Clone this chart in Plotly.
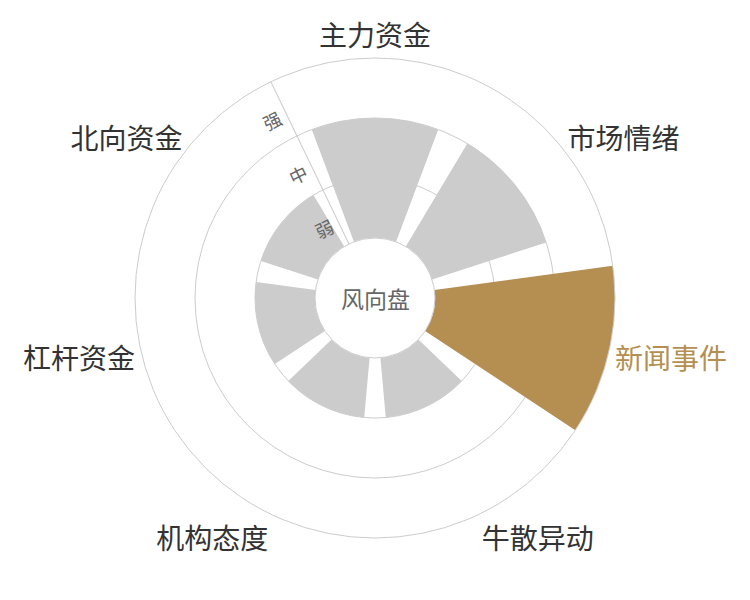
import plotly.graph_objects as go

# wind-vane dial: seven capital-flow signals, each graded 弱 / 中 / 强
categories = ['主力资金', '市场情绪', '新闻事件', '牛散异动', '机构态度', '杠杆资金', '北向资金']
levels = [2, 2, 3, 1, 1, 1, 1]
level_names = ['弱', '中', '强']
highlight = '新闻事件'

GRAY = '#cccccc'
GOLD = '#b58f52'
FONT = 'Noto Sans CJK SC'

colors = [GOLD if c == highlight else GRAY for c in categories]
tick_text = [f'<span style="color:{GOLD}">{c}</span>' if c == highlight else c for c in categories]
n_levels = len(level_names)
axis_angle = 90 + 360 / len(categories) / 2
label_pos = [i + 0.38 for i in range(n_levels)]  # rotated labels sit a bit outward, pull them back to band middle

# page body has an 8px margin, so the dial is placed a little up/left
cx, cy, rad = 367, 290, 240
dom = dict(x=[(cx - rad) / 750, (cx + rad) / 750], y=[(600 - cy - rad) / 600, (600 - cy + rad) / 600])

fig = go.Figure()
fig.add_trace(go.Barpolar(r=levels, theta=categories, subplot='polar',
                          marker=dict(color=colors, line=dict(width=0)), hoverinfo='skip'))
# invisible trace so the overlay subplot (level labels) is rendered
fig.add_trace(go.Scatterpolar(r=levels, theta=categories, subplot='polar2', mode='markers',
                              marker=dict(opacity=0), hoverinfo='skip'))

fig.update_layout(
    width=750, height=600,
    margin=dict(l=0, r=0, t=0, b=0),
    paper_bgcolor='white',
    showlegend=False,
    font=dict(family=FONT),
    polar=dict(
        domain=dom, hole=0.25, bargap=0.2, bgcolor='white',
        angularaxis=dict(type='category', categoryarray=categories, rotation=90, direction='clockwise',
                         tickmode='array', tickvals=categories, ticktext=tick_text,
                         tickfont=dict(size=28, color='#333333', family=FONT),
                         showgrid=False, ticks='', showline=True, linecolor='#cccccc', linewidth=1),
        radialaxis=dict(range=[0, n_levels], tickvals=list(range(n_levels + 1)), showticklabels=False,
                        ticks='', showgrid=True, gridcolor='#cccccc', gridwidth=1, showline=False),
    ),
    polar2=dict(
        domain=dom, hole=0.25, bgcolor='rgba(0,0,0,0)',
        angularaxis=dict(type='category', categoryarray=categories, rotation=90, direction='clockwise',
                         showgrid=False, showline=False, showticklabels=False, ticks=''),
        radialaxis=dict(range=[0, n_levels], angle=axis_angle, side='counterclockwise',
                        tickvals=label_pos, ticktext=level_names, tickangle=90,
                        tickfont=dict(size=18, color='#666666', family=FONT),
                        ticks='', showgrid=False, showline=True, linecolor='#cccccc', linewidth=1),
    ),
    annotations=[dict(text='风向盘', x=cx / 750, y=(600 - cy) / 600, xref='paper', yref='paper',
                      showarrow=False, font=dict(size=23, color='#666666', family=FONT))],
)

fig.write_html('out.html')
